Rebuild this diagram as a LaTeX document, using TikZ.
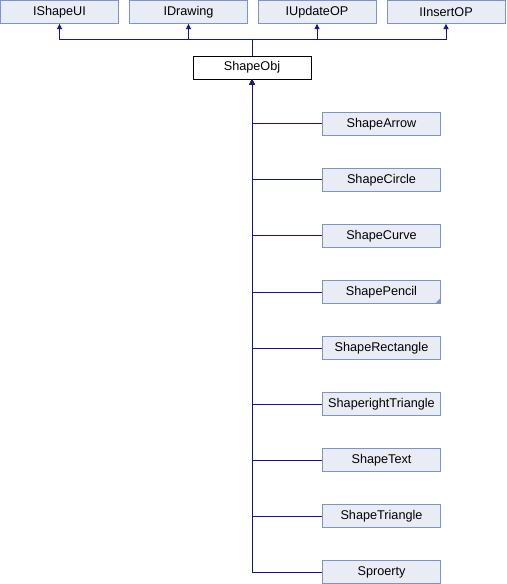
\documentclass[tikz,border=0pt]{standalone}
\usepackage{fontspec}
\setmainfont{Liberation Sans}
\usetikzlibrary{arrows.meta}
\definecolor{boxfill}{RGB}{232,236,244}
\definecolor{boxline}{RGB}{124,148,200}
\definecolor{edgeblue}{RGB}{20,20,150}
\tikzset{
  classbox/.style={draw=boxline, fill=boxfill, minimum width=88.5pt, minimum height=17.25pt, inner sep=0pt, font=\fontsize{9.5}{10}\selectfont},
  mainbox/.style={classbox, draw=black, fill=white},
  edge/.style={draw=edgeblue, line width=0.75pt, -{Triangle[length=4pt,width=3.8pt]}},
}
\begin{document}
\begin{tikzpicture}[x=0.75pt,y=-0.75pt]
  \useasboundingbox (0,0) rectangle (506,584);
  % interfaces
  \node[classbox] (ui) at (59.5,12) {IShapeUI};
  \node[classbox] (drawing) at (188.5,12) {IDrawing};
  \node[classbox] (update) at (317,12) {IUpdateOP};
  \node[classbox] (insert) at (446,12) {IInsertOP};
  \node[mainbox] (obj) at (252,67.5) {ShapeObj};
  \coordinate (bus) at (252,40);
  \draw[edgeblue, line width=0.75pt] (obj.north) -- (bus);
  \foreach \n in {ui,drawing,update,insert}
    \draw[edge] (bus) -| (\n.south);
  % derived classes
  \node[classbox] (arrow) at (381.5,124) {ShapeArrow};
  \node[classbox] (circle) at (381.5,180) {ShapeCircle};
  \node[classbox] (curve) at (381.5,236) {ShapeCurve};
  \node[classbox] (pencil) at (381.5,292) {ShapePencil};
  \node[classbox] (rect) at (381.5,348) {ShapeRectangle};
  \node[classbox] (rtri) at (381.5,404) {ShaperightTriangle};
  \node[classbox] (text) at (381.5,460) {ShapeText};
  \node[classbox] (tri) at (381.5,516) {ShapeTriangle};
  \node[classbox] (prop) at (381.5,572) {Sproerty};
  \fill[boxline] (pencil.south east) -- ++(-6,0) -- ++(6,-6) -- cycle;
  \foreach \n in {arrow,circle,curve,pencil,rect,rtri,text,tri,prop}
    \draw[edge] (\n.west) -| (obj.south);
\end{tikzpicture}
\end{document}
